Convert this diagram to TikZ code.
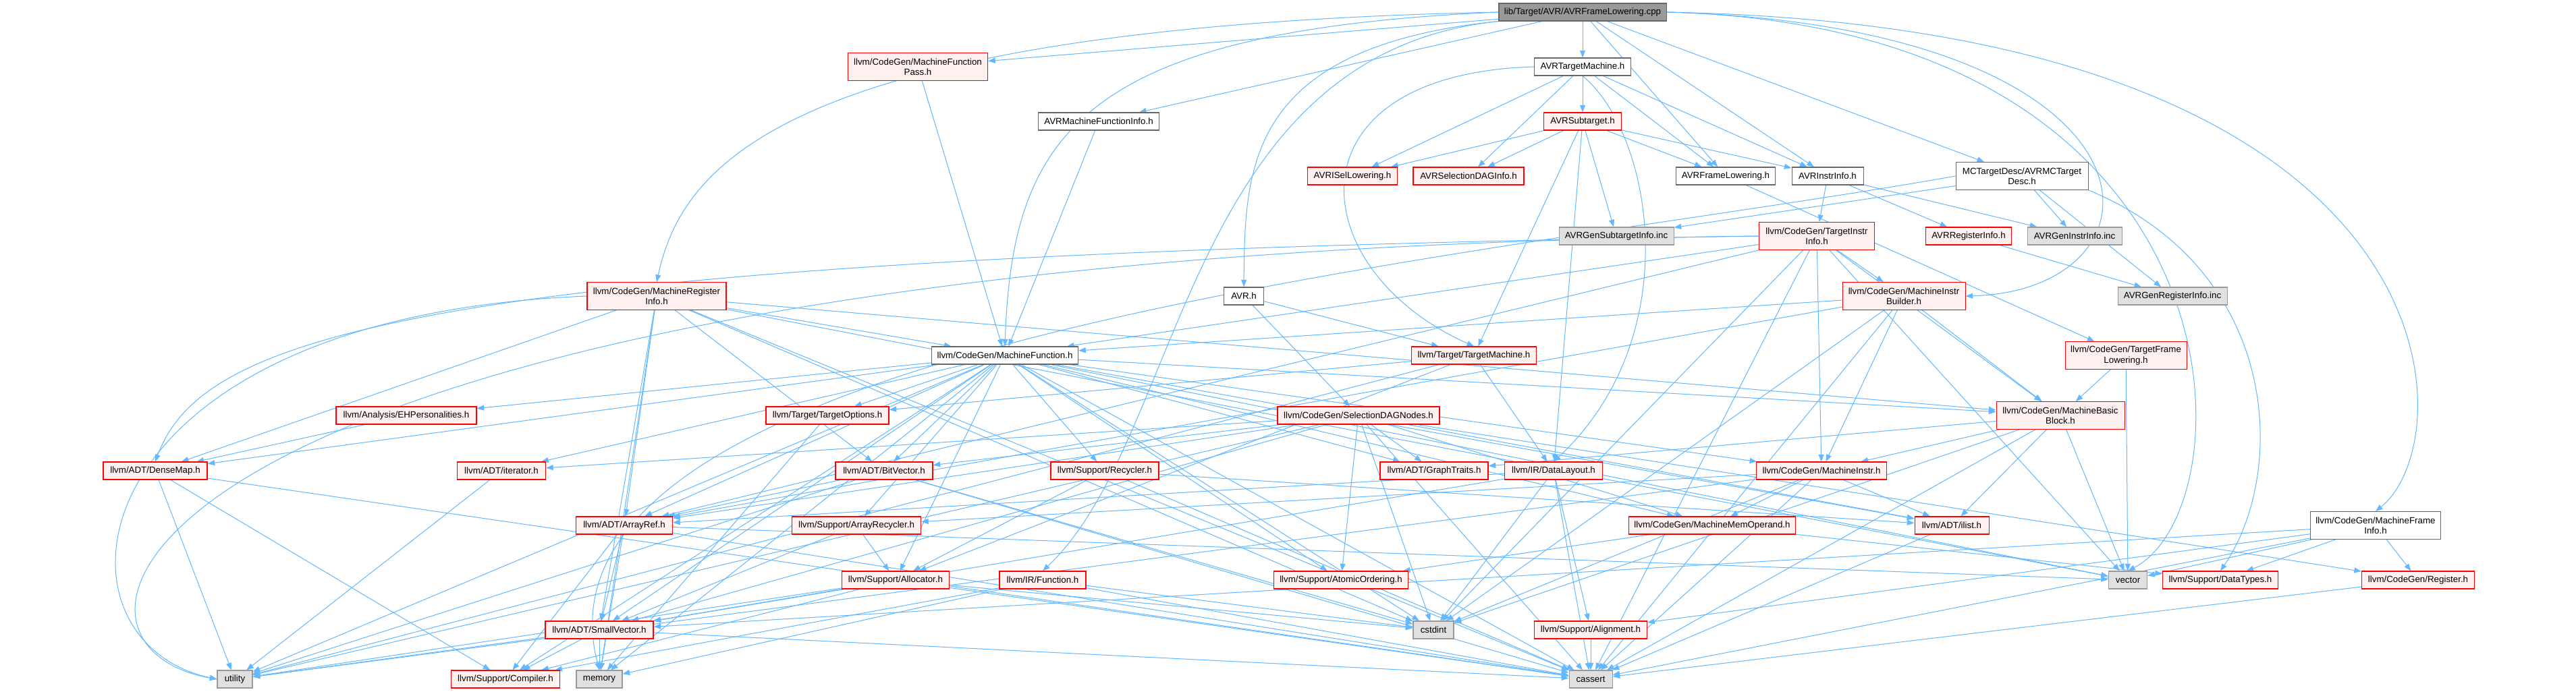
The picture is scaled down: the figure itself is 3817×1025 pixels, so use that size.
\documentclass[tikz,border=0pt]{standalone}
\usepackage{fontspec}
\setmainfont{Liberation Sans}
\usetikzlibrary{arrows.meta,backgrounds}
\definecolor{edgeblue}{HTML}{63B8FF}
\definecolor{redline}{HTML}{FF0000}
\definecolor{redfill}{HTML}{FFF0F0}
\definecolor{greyline}{HTML}{999999}
\definecolor{greyfill}{HTML}{E0E0E0}
\definecolor{darkline}{HTML}{666666}
\definecolor{rootfill}{HTML}{999999}

\begin{document}
\begin{tikzpicture}[
    x=0.75pt, y=-0.75pt,
    hdr/.style={rectangle, draw, line width=0.8pt, inner sep=0pt, align=center,
                minimum height=19.5pt, font=\fontsize{10}{11.5}\selectfont},
    wd/.style={minimum width=#1*0.75pt},
    two/.style={minimum height=30.5pt},
    redhdr/.style={hdr, draw=redline, fill=redfill},
    avrhdr/.style={hdr, draw=darkline, fill=white},
    syshdr/.style={hdr, draw=greyline, fill=greyfill},
    roothdr/.style={hdr, draw=darkline, fill=rootfill},
    inc/.style={draw=edgeblue, line width=0.75pt, -{Triangle[length=8pt,width=6pt]}},
]
\useasboundingbox (0,0) rectangle (3817,1025);

% top of the graph
\node[roothdr,wd=248] (root) at (2345,18) {lib/Target/AVR/AVRFrameLowering.cpp};
\node[redhdr,wd=207,two] (mfpass) at (1360,99) {llvm/CodeGen/MachineFunction\\Pass.h};
\node[avrhdr,wd=143] (avrtm) at (2345,99) {AVRTargetMachine.h};
\node[avrhdr,wd=179] (avrmfi) at (1628,180) {AVRMachineFunctionInfo.h};
\node[redhdr,wd=115] (avrsub) at (2345,180) {AVRSubtarget.h};
\node[redhdr,wd=133] (avrisel) at (2004,261) {AVRISelLowering.h};
\node[redhdr,wd=164] (avrsdag) at (2176,261) {AVRSelectionDAGInfo.h};
\node[avrhdr,wd=147] (avrfl) at (2557,261) {AVRFrameLowering.h};
\node[avrhdr,wd=106] (avrii) at (2708,261) {AVRInstrInfo.h};
\node[avrhdr,wd=196,two] (mctd) at (2996,261) {MCTargetDesc/AVRMCTarget\\Desc.h};
\node[syshdr,wd=170] (gensub) at (2395,350) {AVRGenSubtargetInfo.inc};
\node[redhdr,wd=171,two] (tii) at (2692,350) {llvm/CodeGen/TargetInstr\\Info.h};
\node[redhdr,wd=127] (avrri) at (2917,350) {AVRRegisterInfo.h};
\node[syshdr,wd=140] (geninstr) at (3074,350) {AVRGenInstrInfo.inc};

% middle
\node[redhdr,wd=206,two] (mri) at (973,439) {llvm/CodeGen/MachineRegister\\Info.h};
\node[avrhdr,wd=59] (avrh) at (1843,439) {AVR.h};
\node[redhdr,wd=182,two] (mib) at (2821,439) {llvm/CodeGen/MachineInstr\\Builder.h};
\node[syshdr,wd=162] (genreg) at (3219,439) {AVRGenRegisterInfo.inc};
\node[avrhdr,wd=217] (mf) at (1489,527) {llvm/CodeGen/MachineFunction.h};
\node[redhdr,wd=185] (tm) at (2184,527) {llvm/Target/TargetMachine.h};
\node[redhdr,wd=180,two] (tfl) at (3150,527) {llvm/CodeGen/TargetFrame\\Lowering.h};
\node[redhdr,wd=208] (ehp) at (602,616) {llvm/Analysis/EHPersonalities.h};
\node[redhdr,wd=182] (topt) at (1226,616) {llvm/Target/TargetOptions.h};
\node[redhdr,wd=240] (sdn) at (2013,616) {llvm/CodeGen/SelectionDAGNodes.h};
\node[redhdr,wd=190,two] (mbb) at (3053,616) {llvm/CodeGen/MachineBasic\\Block.h};

% lower rows
\node[redhdr,wd=154] (densemap) at (230,698) {llvm/ADT/DenseMap.h};
\node[redhdr,wd=131] (iter) at (743,698) {llvm/ADT/iterator.h};
\node[redhdr,wd=144] (bitvec) at (1310,698) {llvm/ADT/BitVector.h};
\node[redhdr,wd=160] (recyc) at (1637,698) {llvm/Support/Recycler.h};
\node[redhdr,wd=160] (graph) at (2125,698) {llvm/ADT/GraphTraits.h};
\node[redhdr,wd=145] (dl) at (2302,698) {llvm/IR/DataLayout.h};
\node[redhdr,wd=193] (mi) at (2699,698) {llvm/CodeGen/MachineInstr.h};
\node[redhdr,wd=143] (aref) at (925,779) {llvm/ADT/ArrayRef.h};
\node[redhdr,wd=191] (arecyc) at (1269,779) {llvm/Support/ArrayRecycler.h};
\node[redhdr,wd=247] (mmo) at (2537,779) {llvm/CodeGen/MachineMemOperand.h};
\node[redhdr,wd=110] (ilist) at (2892,779) {llvm/ADT/ilist.h};
\node[avrhdr,wd=193,two] (mfi) at (3520,779) {llvm/CodeGen/MachineFrame\\Info.h};
\node[redhdr,wd=159] (alloc) at (1327,860) {llvm/Support/Allocator.h};
\node[redhdr,wd=128] (func) at (1545,860) {llvm/IR/Function.h};
\node[redhdr,wd=199] (atomic) at (1987,860) {llvm/Support/AtomicOrdering.h};
\node[syshdr,wd=57] (vec) at (3153,860) {vector};
\node[redhdr,wd=171] (dtypes) at (3290,860) {llvm/Support/DataTypes.h};
\node[redhdr,wd=167] (reg) at (3583,860) {llvm/CodeGen/Register.h};
\node[redhdr,wd=160] (svec) at (888,934) {llvm/ADT/SmallVector.h};
\node[syshdr,wd=60] (cstdint) at (2124,934) {cstdint};
\node[redhdr,wd=167] (align) at (2357,934) {llvm/Support/Alignment.h};
\node[syshdr,wd=52] (util) at (348,1007) {utility};
\node[redhdr,wd=161] (compiler) at (749,1007) {llvm/Support/Compiler.h};
\node[syshdr,wd=68] (memory) at (888,1007) {memory};
\node[syshdr,wd=64] (cassert) at (2357,1007) {cassert};

\begin{scope}[on background layer]
\fill[white] (0,0) rectangle (3817,1025);

% includes of the .cpp file
\foreach \dst in {mfpass,avrmfi,avrtm,avrfl,avrii,mctd}
    \draw[inc] (root) -- (\dst);
\draw[inc] (root.west) .. controls (1150,40) and (1010,250) .. (mri.north);
\draw[inc] (root.west) .. controls (1600,45) and (1500,200) .. (mf.north);
\draw[inc] (root.south west) .. controls (1754,80) and (1754,650) .. (func.north);
\draw[inc] (root.south west) .. controls (1845,70) and (1845,250) .. (avrh.north);
\draw[inc] (root.east) .. controls (3231,40) and (3231,430) .. (mib.east);
\draw[inc] (root.east) .. controls (3337,40) and (3337,750) .. (vec.north);
\draw[inc] (root.east) .. controls (3654,40) and (3654,650) .. (mfi.north);

% AVR headers
\draw[inc] (avrmfi) -- (mf);
\draw[inc] (mfpass) -- (mf);
\foreach \dst in {avrsub,avrisel,avrsdag,avrfl,avrii}
    \draw[inc] (avrtm) -- (\dst);
\draw[inc] (avrtm.west) .. controls (1900,110) and (1930,400) .. (tm.north);
\draw[inc] (avrtm.south) .. controls (2450,200) and (2500,500) .. (dl.north);
\foreach \dst in {avrisel,avrsdag,avrfl,avrii,tm,dl,gensub}
    \draw[inc] (avrsub) -- (\dst);
\draw[inc] (avrfl) -- (tfl);
\foreach \dst in {tii,avrri,geninstr}
    \draw[inc] (avrii) -- (\dst);
\foreach \dst in {gensub,geninstr,genreg}
    \draw[inc] (mctd) -- (\dst);
\draw[inc] (mctd.south east) .. controls (3380,400) and (3390,700) .. (dtypes.north);
\draw[inc] (mctd.west) .. controls (2200,385) and (760,500) .. (memory.north);
\draw[inc] (avrri) -- (genreg);
\foreach \dst in {sdn,tm}
    \draw[inc] (avrh) -- (\dst);

% llvm headers
\foreach \dst in {mf,aref,mib,mi,mbb,cstdint,cassert,vec}
    \draw[inc] (tii) -- (\dst);
\draw[inc] (tii.west) .. controls (600,380) and (300,500) .. (densemap.north);
\draw[inc] (tii.west) .. controls (200,375) and (5,950) .. (util.west);
\foreach \dst in {mf,densemap,aref,bitvec,svec,mbb,cassert,cstdint,memory,vec}
    \draw[inc] (mri) -- (\dst);
\draw[inc] (mri.west) .. controls (100,470) and (55,950) .. (util.west);
\foreach \dst in {mf,aref,mi,mbb,cassert,cstdint}
    \draw[inc] (mib) -- (\dst);
\foreach \dst in {ehp,densemap,iter,aref,bitvec,topt,arecyc,alloc,recyc,atomic,
                  graph,mbb,mi,mmo,ilist,svec,compiler,memory,util,cassert,cstdint,vec}
    \draw[inc] (mf) -- (\dst);
\foreach \dst in {dl,topt,alloc,util}
    \draw[inc] (tm) -- (\dst);
\foreach \dst in {mbb,vec}
    \draw[inc] (tfl) -- (\dst);
\draw[inc] (ehp) -- (densemap);
\draw[inc] (topt) -- (memory);
\foreach \dst in {aref,bitvec,graph,svec,ilist,iter,mmo,reg,atomic,cassert,cstdint,util}
    \draw[inc] (sdn) -- (\dst);
\foreach \dst in {graph,ilist,mi,cassert,cstdint,vec}
    \draw[inc] (mbb) -- (\dst);
\foreach \dst in {compiler,cassert,util}
    \draw[inc] (densemap) -- (\dst);
\draw[inc] (iter) -- (util);
\foreach \dst in {aref,cassert,cstdint,util}
    \draw[inc] (bitvec) -- (\dst);
\foreach \dst in {ilist,alloc,cassert}
    \draw[inc] (recyc) -- (\dst);
\foreach \dst in {aref,svec,align,cassert,cstdint}
    \draw[inc] (dl) -- (\dst);
\foreach \dst in {ilist,mmo,arecyc,cassert,cstdint,util}
    \draw[inc] (mi) -- (\dst);
\foreach \dst in {svec,compiler,cassert,memory,vec}
    \draw[inc] (aref) -- (\dst);
\foreach \dst in {svec,alloc}
    \draw[inc] (arecyc) -- (\dst);
\foreach \dst in {atomic,dtypes}
    \draw[inc] (mmo) -- (\dst);
\draw[inc] (ilist) -- (cassert);
\foreach \dst in {svec,reg,align,dtypes,cassert,vec}
    \draw[inc] (mfi) -- (\dst);
\foreach \dst in {svec,compiler,cassert,cstdint,util}
    \draw[inc] (alloc) -- (\dst);
\foreach \dst in {compiler,cassert,cstdint,memory}
    \draw[inc] (func) -- (\dst);
\draw[inc] (reg) -- (cassert);
\foreach \dst in {compiler,cassert,memory,util}
    \draw[inc] (svec) -- (\dst);
\draw[inc] (align) -- (cassert);
\end{scope}
\end{tikzpicture}
\end{document}
